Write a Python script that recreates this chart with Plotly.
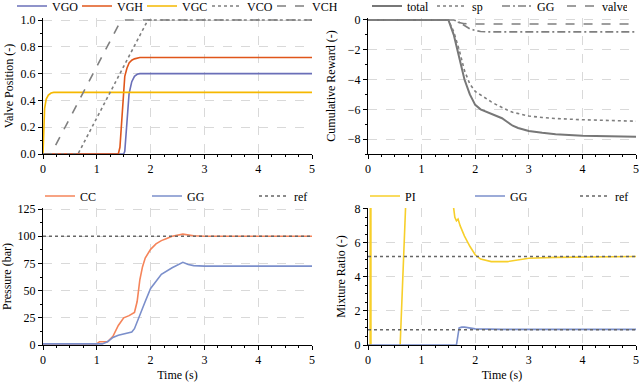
import plotly.graph_objects as go

# --- valve positions (top left)
t_vgo = [0, 1.5, 1.52, 1.55, 1.6, 1.65, 1.7, 1.75, 1.8, 2.0, 5.0]
vgo = [0, 0, 0.02, 0.2, 0.45, 0.54, 0.58, 0.595, 0.6, 0.6, 0.6]
t_vgh = [0, 1.4, 1.43, 1.47, 1.52, 1.56, 1.6, 1.65, 1.7, 1.8, 2.0, 5.0]
vgh = [0, 0, 0.05, 0.3, 0.58, 0.64, 0.68, 0.7, 0.71, 0.72, 0.72, 0.72]
t_vgc = [0, 0.01, 0.03, 0.06, 0.1, 0.15, 0.2, 0.3, 5.0]
vgc = [0, 0.2, 0.34, 0.41, 0.44, 0.455, 0.46, 0.46, 0.46]
t_vco = [0, 0.65, 1.95, 5.0]
vco = [0, 0, 1.0, 1.0]
t_vch = [0, 0.15, 1.4, 1.45, 1.5, 5.0]
vch = [0, 0, 0.96, 0.985, 1.0, 1.0]

# --- cumulative reward (top right)
t_rew = [0, 1.5, 1.6, 1.7, 1.8, 1.9, 2.0, 2.1, 2.2, 2.3, 2.4, 2.5, 2.6, 2.7, 2.8, 3.0, 3.25, 3.5, 4.0, 4.5, 5.0]
r_total = [0, 0, -1.0, -2.5, -4.0, -5.0, -5.7, -6.0, -6.15, -6.3, -6.45, -6.6, -6.85, -7.1, -7.25, -7.45, -7.58, -7.68, -7.78, -7.82, -7.85]
r_sp = [0, 0, -0.8, -2.0, -3.4, -4.3, -4.8, -5.05, -5.3, -5.5, -5.7, -5.9, -6.05, -6.2, -6.3, -6.45, -6.55, -6.62, -6.7, -6.75, -6.8]
r_gg = [0, 0, 0, -0.15, -0.4, -0.6, -0.7, -0.78, -0.8, -0.8, -0.8, -0.8, -0.8, -0.8, -0.8, -0.8, -0.8, -0.8, -0.8, -0.8, -0.8]
r_valve = [0, 0, -0.1, -0.2, -0.25, -0.27, -0.27, -0.27, -0.27, -0.27, -0.27, -0.27, -0.27, -0.27, -0.27, -0.27, -0.27, -0.27, -0.27, -0.27, -0.27]

# --- pressure (bottom left)
t_cc = [0, 1.0, 1.05, 1.2, 1.3, 1.4, 1.5, 1.6, 1.7, 1.75, 1.8, 1.85, 1.9, 2.0, 2.1, 2.2, 2.3, 2.4, 2.6, 2.8, 3.0, 5.0]
p_cc = [1, 1, 3, 3, 8, 18, 25, 27, 30, 40, 60, 72, 80, 88, 93, 96, 98, 100, 102, 100.5, 100, 100]
t_ggp = [0, 1.1, 1.2, 1.3, 1.4, 1.5, 1.6, 1.65, 1.7, 1.8, 1.9, 2.0, 2.1, 2.2, 2.4, 2.6, 2.7, 2.8, 3.0, 5.0]
p_gg = [1, 1, 3, 7, 9, 10, 11, 12, 15, 28, 40, 52, 59, 65, 71, 76, 74, 73, 72.5, 72.5]
p_ref = 100

# --- mixture ratio (bottom right)
t_pi = [0, 0.04, 0.05, 0.06, 0.58, 0.6, 0.7, 0.75, 1.5, 1.58, 1.6, 1.62, 1.65, 1.68, 1.72, 1.8, 1.9, 2.0, 2.1, 2.3, 2.6, 2.8, 3.0, 3.5, 5.0]
mr_pi = [0, 0, 40, -40, -1, 0, 8, 20, 20, 8.5, 8.0, 7.5, 7.3, 7.4, 7.0, 6.4, 5.8, 5.3, 5.05, 4.9, 4.9, 5.0, 5.1, 5.15, 5.2]
t_ggm = [0, 1.65, 1.7, 1.75, 1.8, 1.9, 2.0, 2.5, 5.0]
mr_gg = [0, 0, 1.0, 1.05, 1.05, 0.98, 0.95, 0.92, 0.92]
mr_ref = [5.2, 0.9]

T_END = 5.0
FONT = "Liberation Serif"
GRAY = "#7f7f7f"

fig = go.Figure()


def add(x, y, name, color, dash, xa, ya, leg, width=1.6):
    fig.add_trace(go.Scatter(x=x, y=y, name=name, mode="lines", xaxis=xa, yaxis=ya, legend=leg,
                             line=dict(color=color, dash=dash, width=width)))


add(t_vgo, vgo, "VGO", "#6a6fb8", "solid", "x", "y", "legend")
add(t_vgh, vgh, "VGH", "#e0561a", "solid", "x", "y", "legend")
add(t_vgc, vgc, "VGC", "#f5b800", "solid", "x", "y", "legend")
add(t_vco, vco, "VCO", GRAY, "dot", "x", "y", "legend")
add(t_vch, vch, "VCH", GRAY, "dash", "x", "y", "legend")

add(t_rew, r_total, "total", "#777777", "solid", "x2", "y2", "legend2", 2)
add(t_rew, r_sp, "sp", GRAY, "dot", "x2", "y2", "legend2")
add(t_rew, r_gg, "GG", GRAY, "8px,3px,2px,3px", "x2", "y2", "legend2")
add(t_rew, r_valve, "valve", GRAY, "dash", "x2", "y2", "legend2")

add(t_cc, p_cc, "CC", "#f5845a", "solid", "x3", "y3", "legend3")
add(t_ggp, p_gg, "GG", "#7b8fcb", "solid", "x3", "y3", "legend3")
add([0, T_END], [p_ref, p_ref], "ref", "#666666", "dot", "x3", "y3", "legend3")

add(t_pi, mr_pi, "PI", "#f7cf2a", "solid", "x4", "y4", "legend4")
add(t_ggm, mr_gg, "GG", "#7b8fcb", "solid", "x4", "y4", "legend4")
for i, r in enumerate(mr_ref):
    fig.add_trace(go.Scatter(x=[0, T_END], y=[r, r], name="ref", mode="lines", xaxis="x4", yaxis="y4",
                             legend="legend4", showlegend=(i == 0),
                             line=dict(color="#666666", dash="dot", width=1.6)))

W, H = 640, 382
xl = [43 / W, 312 / W]
xr = [368 / W, 636 / W]
yt = [1 - 154 / H, 1 - 18 / H]
yb = [1 - 345 / H, 1 - 208 / H]

tickfont = dict(family=FONT, size=12, color="black")


def xaxis(dom, anchor, title=None):
    return dict(domain=dom, anchor=anchor, range=[0, T_END], dtick=1, showline=True, linecolor="black",
                linewidth=1, ticks="outside", ticklen=4, tickcolor="black", zeroline=False, automargin=False,
                showgrid=True, gridcolor="#d9d9d9", griddash="dash", gridwidth=1, tickfont=tickfont,
                minor=dict(dtick=0.25, ticks="outside", ticklen=2, tickcolor="black", showgrid=False),
                title=dict(text=title, font=tickfont, standoff=6) if title else None)


def yaxis(dom, anchor, rng, dtick, mdtick, title, fmt=None, standoff=6):
    return dict(domain=dom, anchor=anchor, range=rng, dtick=dtick, tick0=0, showline=True, linecolor="black",
                linewidth=1, ticks="outside", ticklen=4, tickcolor="black", zeroline=False, automargin=False,
                showgrid=True, gridcolor="#d9d9d9", griddash="dash", gridwidth=1, tickfont=tickfont,
                tickformat=fmt,
                minor=dict(dtick=mdtick, tick0=0, ticks="outside", ticklen=2, tickcolor="black", showgrid=False),
                title=dict(text=title, font=tickfont, standoff=standoff))


def legend(x, y, entryw):
    return dict(orientation="h", x=x, y=y, xanchor="left", yanchor="middle", bgcolor="rgba(0,0,0,0)",
                font=dict(family=FONT, size=12, color="black"), entrywidth=entryw, entrywidthmode="pixels",
                itemwidth=30, tracegroupgap=0)


fig.update_layout(
    width=W, height=H, margin=dict(l=0, r=0, t=0, b=0, autoexpand=False),
    paper_bgcolor="white", plot_bgcolor="white",
    font=dict(family=FONT, size=12, color="black"),
    xaxis=xaxis(xl, "y"), yaxis=yaxis(yt, "x", [0, 1.015], 0.2, 0.1, "Valve Position (-)", ".1f", 4),
    xaxis2=xaxis(xr, "y2"), yaxis2=yaxis(yt, "x2", [-9, 0.13], 2, 1, "Cumulative Reward (-)", None, 9),
    xaxis3=xaxis(xl, "y3", "Time (s)"), yaxis3=yaxis(yb, "x3", [0, 126], 25, 12.5, "Pressure (bar)"),
    xaxis4=xaxis(xr, "y4", "Time (s)"), yaxis4=yaxis(yb, "x4", [0, 8.05], 2, 0.5, "Mixture Ratio (-)"),
    legend=legend(12 / W, 1 - 6 / H, 20),
    legend2=legend(367 / W, 1 - 6 / H, 20),
    legend3=legend(40 / W, 1 - 196 / H, 62),
    legend4=legend(365 / W, 1 - 196 / H, 60),
)

fig.write_html("out.html", config={"displayModeBar": False},
               post_script="document.body.style.margin='0px';")
